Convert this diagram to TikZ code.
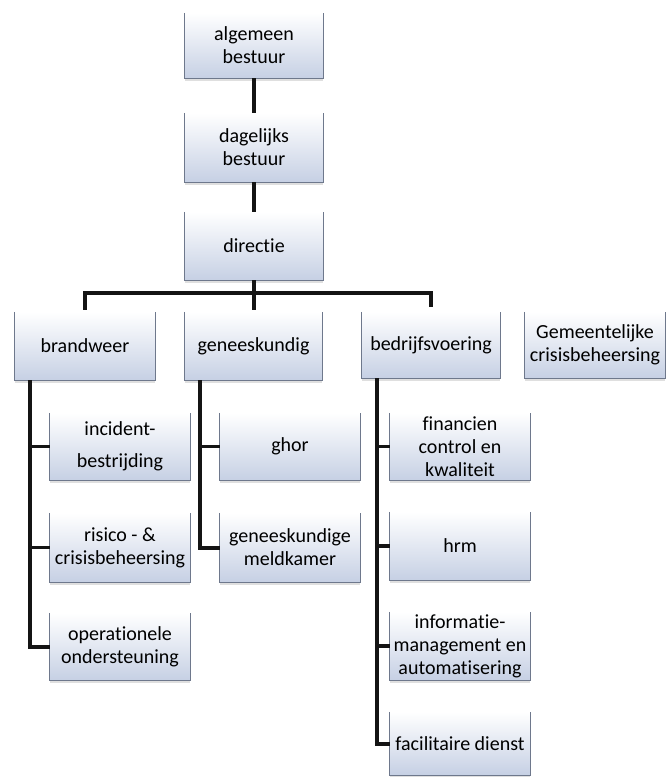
\documentclass[tikz,border=0pt]{standalone}
\usepackage{fontspec}
\setmainfont{Carlito}[Ligatures=NoCommon]
\usetikzlibrary{shadows,calc}
\definecolor{boxbot}{RGB}{198,208,228}
\definecolor{boxedge}{RGB}{110,120,140}
\definecolor{linec}{RGB}{20,20,20}
\tikzset{
  orgbox/.style={minimum width=140pt, minimum height=67pt, inner sep=1pt,
    align=center, font=\fontsize{20}{23}\selectfont, text=black,
    top color=white, middle color=white, bottom color=boxbot,
    drop shadow={shadow xshift=0pt, shadow yshift=-3pt, opacity=0.25, fill=gray}},
  boxrim/.style={draw=boxedge, line width=0.8pt},
  conn/.style={draw=linec, line width=4pt},
  tickl/.style={draw=linec, line width=3.2pt}
}
\begin{document}
\begin{tikzpicture}[x=1pt,y=-1pt]
\useasboundingbox (0,0) rectangle (667,777);
% top chain
\node[orgbox, minimum width=138pt, minimum height=65pt] (alg) at (254,45.5) {algemeen\\bestuur};
\node[orgbox, minimum width=138pt, minimum height=69pt] (dag) at (254,147.5) {dagelijks\\bestuur};
\node[orgbox, minimum width=138pt, minimum height=68pt] (dir) at (254,246) {directie};
% level 2
\node[orgbox, minimum height=68pt] (brand) at (85,346) {brandweer};
\node[orgbox, minimum width=137pt, minimum height=68pt] (gen) at (253.5,346) {geneeskundig};
\node[orgbox, minimum width=138pt, minimum height=66pt] (bedr) at (431,345) {bedrijfsvoering};
\node[orgbox, minimum height=66pt] (gem) at (595,345) {Gemeentelijke\\crisisbeheersing};
% brandweer children
\node[orgbox, minimum height=67pt, font=\fontsize{20}{32}\selectfont] (inc) at (120,446.5) {incident-\\bestrijding};
\node[orgbox, minimum height=69pt] (ris) at (120,547.5) {risico - \&\\crisisbeheersing};
\node[orgbox, minimum height=67pt] (ope) at (120,646.5) {operationele\\ondersteuning};
% geneeskundig children
\node[orgbox, minimum height=67pt] (ghor) at (290,446.5) {ghor};
\node[orgbox, minimum height=69pt] (meld) at (290,547.5) {geneeskundige\\meldkamer};
% bedrijfsvoering children
\node[orgbox, minimum height=67pt] (fin) at (460,446.5) {financien\\control en\\kwaliteit};
\node[orgbox, minimum height=68pt] (hrm) at (460,546) {hrm};
\node[orgbox, minimum height=68pt] (inf) at (460,646) {informatie-\\management en\\automatisering};
\node[orgbox, minimum height=63pt] (fac) at (460,743.5) {facilitaire dienst};
% box rims (left, bottom, right)
\foreach \n in {alg,dag,dir,brand,gen,bedr,gem,inc,ris,ope,ghor,meld,fin,hrm,inf,fac}{
  \draw[boxrim] (\n.north west) -- (\n.south west) -- (\n.south east) -- (\n.north east);
}
% connectors
\coordinate (bus) at (0,293);
\coordinate (bx) at (30,0);
\coordinate (gx) at (200,0);
\coordinate (fx) at (377,0);
\draw[conn] (alg.south) -- (dag.north);
\draw[conn] (dag.south) -- (dir.north);
\draw[conn] (dir.south) -- ($(dir.south |- gen.north)+(0,-2)$);
\draw[conn] ($(brand.north)+(0,-2)$) -- (brand.north |- bus) -- (bedr.north |- bus) -- ($(bedr.north)+(0,-5)$);
% brandweer branch
\draw[conn] (bx |- brand.south) -- (bx |- ope.west) -- (ope.west);
\draw[tickl] (bx |- inc.west) -- (inc.west);
\draw[tickl] (bx |- ris.west) -- (ris.west);
% geneeskundig branch
\draw[conn] (gx |- gen.south) -- (gx |- meld.west) -- (meld.west);
\draw[tickl] (gx |- ghor.west) -- (ghor.west);
% bedrijfsvoering branch
\draw[conn] (fx |- bedr.south) -- (fx |- fac.west) -- (fac.west);
\draw[tickl] (fx |- fin.west) -- (fin.west);
\draw[tickl] (fx |- hrm.west) -- (hrm.west);
\draw[tickl] (fx |- inf.west) -- (inf.west);
\end{tikzpicture}
\end{document}
